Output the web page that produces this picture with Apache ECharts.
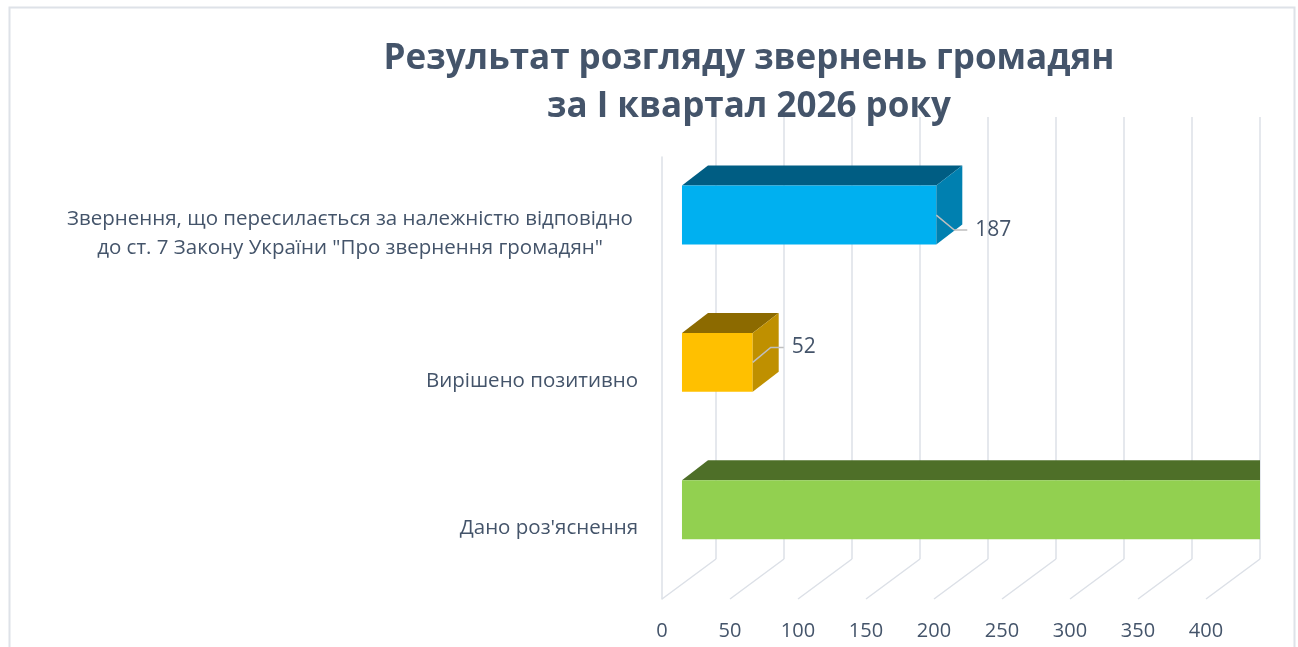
<!DOCTYPE html>
<html>
<head>
<meta charset="utf-8">
<script src="https://cdn.jsdelivr.net/npm/echarts@6/dist/echarts.min.js"></script>
<style>
  html, body { margin: 0; padding: 0; background: #fff; }
  #chart { width: 1298px; height: 647px; }
</style>
</head>
<body>
<div id="chart"></div>
<script>
// categories go bottom -> top, like Excel's bar chart
const categories = [
  "Дано роз'яснення",
  'Вирішено позитивно',
  'Звернення, що пересилається за належністю відповідно\nдо ст. 7 Закону України "Про звернення громадян"'
]
const values = [430, 52, 187]          // first one runs past the axis end and is cut off
const tickValues = [0, 50, 100, 150, 200, 250, 300, 350, 400]
const axisMax = 400

const frontColors = ['#92D050', '#FFC000', '#00B0F0']
const topColors   = ['#4E6F28', '#8C6A00', '#005D83']
const sideColors  = ['#6A9A38', '#BF9000', '#0080B0']
const leaderShift = [0, -15, 15]       // leader line goes up or down like in Excel

const txt = '#44546A'
const gridColor = '#DCE0E7'
const font = '"Open Sans", "Noto Sans", sans-serif'

// 3d look: back wall is shifted by (54, -40) from the front plane
const wallDx = 54, wallDy = -40

let chart = echarts.init(document.getElementById('chart'))

function renderBar(params, api) {
  let i = api.value(1)
  let c = api.coord([api.value(0), i])
  let o = api.coord([0, i])
  let band = api.size([0, 1])[1]
  let barH = band * 0.4
  let fx = wallDx * 0.37, fy = wallDy * 0.39          // front face sits a bit inside
  let dx = 26, dy = -20                                // bar depth
  let limit = api.coord([axisMax, i])[0] + wallDx      // clip at back wall end
  let cx = x => Math.min(x, limit)
  let x0 = o[0] + fx, x1 = c[0] + fx
  let yc = c[1] + fy, yt = yc - barH / 2, yb = yc + barH / 2
  let children = [
    { type: 'polygon', shape: { points: [[x0, yt], [cx(x1), yt], [cx(x1 + dx), yt + dy], [cx(x0 + dx), yt + dy]] },
      style: { fill: topColors[i] } },
    { type: 'polygon', shape: { points: [[x0, yt], [cx(x1), yt], [cx(x1), yb], [x0, yb]] },
      style: { fill: frontColors[i] } }
  ]
  if (x1 + dx <= limit) {
    children.push({ type: 'polygon', shape: { points: [[x1, yt], [x1 + dx, yt + dy], [x1 + dx, yb + dy], [x1, yb]] },
      style: { fill: sideColors[i] } })
    let ly = yc + leaderShift[i]
    children.push({ type: 'polyline', shape: { points: [[x1, yc], [x1 + 18, ly], [x1 + 31, ly]] },
      style: { stroke: '#BFBFBF', lineWidth: 1.5, fill: null } })
    children.push({ type: 'text', x: x1 + 39, y: ly,
      style: { text: String(api.value(0)), fill: txt, font: '21px ' + font, verticalAlign: 'middle', align: 'left' } })
  }
  return { type: 'group', children: children }
}

function renderFloor(params, api) {
  let p = api.coord([api.value(0), 0])
  let bottom = params.coordSys.y + params.coordSys.height
  return { type: 'line', shape: { x1: p[0], y1: bottom, x2: p[0] + wallDx, y2: bottom + wallDy },
    style: { stroke: gridColor, lineWidth: 1.5 } }
}

let option = {
  animation: false,
  textStyle: { fontFamily: font },
  title: {
    text: 'Результат розгляду звернень громадян\nза I квартал 2026 року',
    left: 744, top: 30, textAlign: 'center',
    textStyle: { fontFamily: 'Open Sans', fontWeight: 'bold', fontSize: 35, color: txt, lineHeight: 48 }
  },
  graphic: [{
    type: 'rect', left: 7, top: 5, z: -10,
    shape: { width: 1285, height: 700 },
    style: { fill: null, stroke: '#DEE2E8', lineWidth: 2 }
  }],
  grid: [
    { left: 662 + wallDx, top: 157 + wallDy, width: 544, height: 442 },   // back wall
    { left: 662, top: 157, width: 544, height: 442 }                      // front plane
  ],
  xAxis: [
    { type: 'value', gridIndex: 0, min: 0, max: axisMax, interval: 50,
      axisLine: { show: false }, axisTick: { show: false }, axisLabel: { show: false },
      splitLine: { show: true, lineStyle: { color: gridColor, width: 1.5 } } },
    { type: 'value', gridIndex: 1, min: 0, max: axisMax, interval: 50,
      axisLine: { show: false }, axisTick: { show: false }, splitLine: { show: false },
      axisLabel: { color: txt, fontSize: 20, margin: 22 } }
  ],
  yAxis: [
    { type: 'category', gridIndex: 0, data: categories, show: false },
    { type: 'category', gridIndex: 1, data: categories,
      axisLine: { show: true, lineStyle: { color: gridColor, width: 1.5 } },
      axisTick: { show: false },
      axisLabel: {
        margin: 24, fontSize: 20.5, color: txt, padding: [6, 0, 0, 0],
        formatter: v => v.indexOf('\n') >= 0 ? v.split('\n').map(s => '{c|' + s + '}').join('\n') : v,
        rich: { c: { width: 576, align: 'center', fontSize: 20.5, color: txt, lineHeight: 29 } }
      } }
  ],
  series: [
    { type: 'custom', xAxisIndex: 1, yAxisIndex: 1, renderItem: renderFloor, clip: false,
      data: tickValues.map(v => [v, 0]), silent: true, z: 1 },
    { type: 'custom', xAxisIndex: 1, yAxisIndex: 1, renderItem: renderBar, clip: false,
      data: values.map((v, i) => [v, i]), encode: { x: 0, y: 1 }, z: 5 }
  ]
}

chart.setOption(option)
</script>
</body>
</html>
